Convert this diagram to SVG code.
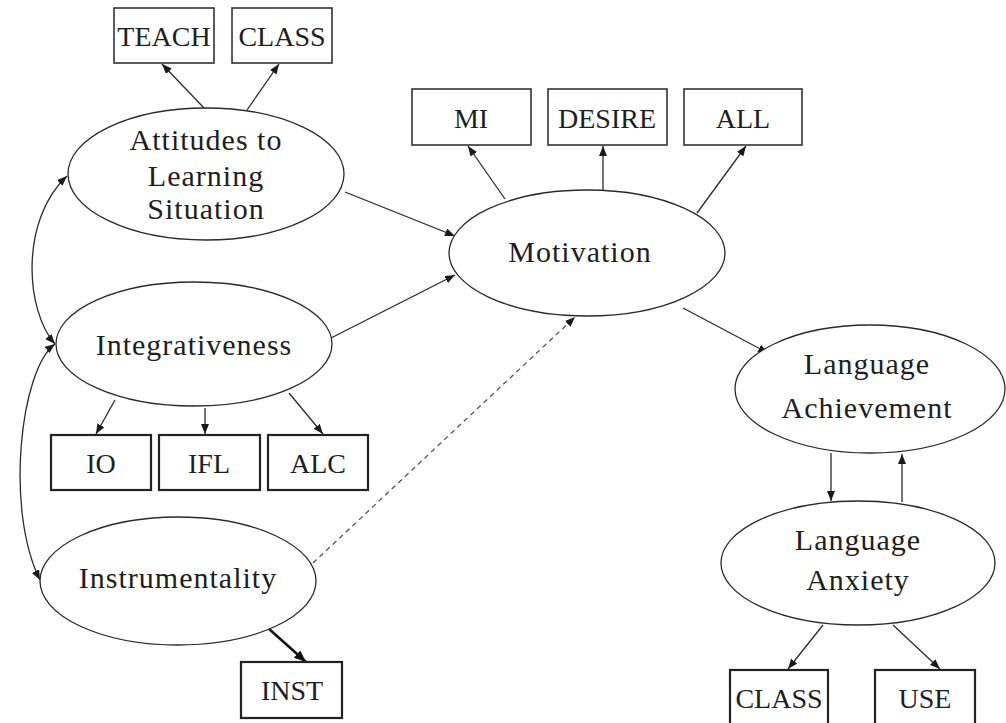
<svg xmlns="http://www.w3.org/2000/svg" width="1006" height="723" viewBox="0 0 1006 723">
  <style>
    .lat { fill: #fff; stroke: #2a2a2a; stroke-width: 1.3; }
    .box { fill: #fff; stroke: #333; stroke-width: 1.6; }
    .box2 { fill: #fff; stroke: #222; stroke-width: 2.2; }
    text { font-family: "Liberation Serif", "DejaVu Serif", "Noto Serif", "Times New Roman", serif; fill: #1e1e1e; text-anchor: middle; }
    .lbl { font-size: 30px; letter-spacing: 1px; }
    .blbl { font-size: 28px; }
    .edge { fill: none; stroke: #2a2a2a; stroke-width: 1.3; marker-end: url(#arr); }
    .both { marker-start: url(#arr); }
    .dash { stroke: #555; stroke-dasharray: 5 4; }
    .thick { stroke: #111; stroke-width: 2.6; marker-end: url(#arrBig); }
  </style>
  <defs>
    <marker id="arr" viewBox="0 0 10 8" refX="10" refY="4" markerWidth="10" markerHeight="8" markerUnits="userSpaceOnUse" orient="auto-start-reverse">
      <path d="M0,0 L10,4 L0,8 z" fill="#1a1a1a"/>
    </marker>
    <marker id="arrBig" viewBox="0 0 10 8" refX="10" refY="4" markerWidth="12" markerHeight="10" markerUnits="userSpaceOnUse" orient="auto">
      <path d="M0,0 L10,4 L0,8 z" fill="#111"/>
    </marker>
  </defs>
  <rect width="1006" height="723" fill="#fff"/>

  <!-- connectors -->
  <g id="connectors">
    <line class="edge" x1="204" y1="108" x2="162" y2="64"/>
    <line class="edge" x1="247" y1="110" x2="279" y2="64"/>
    <line class="edge" x1="345" y1="192" x2="455" y2="236"/>
    <line class="edge" x1="331" y1="338" x2="455" y2="275"/>
    <line class="edge" x1="505" y1="199" x2="468" y2="146"/>
    <line class="edge" x1="603" y1="190" x2="603" y2="146"/>
    <line class="edge" x1="697" y1="213" x2="746" y2="146"/>
    <line class="edge" x1="683" y1="308" x2="768" y2="353"/>
    <line class="edge" x1="115" y1="400" x2="96" y2="434"/>
    <line class="edge" x1="205" y1="408" x2="205" y2="434"/>
    <line class="edge" x1="289" y1="393" x2="323" y2="434"/>
    <line class="edge dash" x1="313" y1="563" x2="575" y2="317"/>
    <line class="edge thick" x1="268" y1="628" x2="306" y2="662"/>
    <path class="edge both" d="M55,344 C25,310 20,220 67,176"/>
    <path class="edge both" d="M55,344 C20,370 5,510 40,580"/>
    <line class="edge" x1="831" y1="453" x2="831" y2="501"/>
    <line class="edge" x1="902" y1="502" x2="902" y2="454"/>
    <line class="edge" x1="823" y1="625" x2="788" y2="669"/>
    <line class="edge" x1="893" y1="625" x2="940" y2="669"/>
  </g>

  <!-- latent variables -->
  <g id="attitudes">
    <ellipse class="lat" cx="206" cy="174" rx="138" ry="66"/>
    <text class="lbl" x="206" y="150">Attitudes to</text>
    <text class="lbl" x="206" y="186">Learning</text>
    <text class="lbl" x="206" y="219">Situation</text>
  </g>
  <g id="motivation">
    <ellipse class="lat" cx="587" cy="253" rx="138" ry="63"/>
    <text class="lbl" x="580" y="262">Motivation</text>
  </g>
  <g id="integrativeness">
    <ellipse class="lat" cx="194" cy="344" rx="138" ry="62"/>
    <text class="lbl" x="194" y="355">Integrativeness</text>
  </g>
  <g id="instrumentality">
    <ellipse class="lat" cx="178" cy="581" rx="138" ry="64"/>
    <text class="lbl" x="178" y="588">Instrumentality</text>
  </g>
  <g id="achievement">
    <ellipse class="lat" cx="870" cy="389" rx="135" ry="64"/>
    <text class="lbl" x="867" y="374">Language</text>
    <text class="lbl" x="867" y="418">Achievement</text>
  </g>
  <g id="anxiety">
    <ellipse class="lat" cx="858" cy="563" rx="137" ry="62"/>
    <text class="lbl" x="858" y="550">Language</text>
    <text class="lbl" x="858" y="590">Anxiety</text>
  </g>

  <!-- indicators -->
  <g id="teach">
    <rect class="box" x="114" y="8" width="100" height="55"/>
    <text class="blbl" x="164" y="46">TEACH</text>
  </g>
  <g id="class-top">
    <rect class="box" x="232" y="8" width="100" height="55"/>
    <text class="blbl" x="282" y="46">CLASS</text>
  </g>
  <g id="mi">
    <rect class="box" x="412" y="89" width="119" height="56"/>
    <text class="blbl" x="471" y="128">MI</text>
  </g>
  <g id="desire">
    <rect class="box" x="548" y="89" width="119" height="56"/>
    <text class="blbl" x="607" y="128">DESIRE</text>
  </g>
  <g id="all">
    <rect class="box" x="684" y="89" width="118" height="56"/>
    <text class="blbl" x="743" y="128">ALL</text>
  </g>
  <g id="io">
    <rect class="box2" x="51" y="435" width="100" height="55"/>
    <text class="blbl" x="101" y="473">IO</text>
  </g>
  <g id="ifl">
    <rect class="box2" x="159" y="435" width="101" height="55"/>
    <text class="blbl" x="209" y="473">IFL</text>
  </g>
  <g id="alc">
    <rect class="box2" x="268" y="435" width="100" height="55"/>
    <text class="blbl" x="318" y="473">ALC</text>
  </g>
  <g id="inst">
    <rect class="box2" x="241" y="662" width="101" height="56"/>
    <text class="blbl" x="292" y="700">INST</text>
  </g>
  <g id="class-bottom">
    <rect class="box2" x="730" y="670" width="98" height="70"/>
    <text class="blbl" x="779" y="708">CLASS</text>
  </g>
  <g id="use">
    <rect class="box2" x="875" y="670" width="100" height="70"/>
    <text class="blbl" x="925" y="708">USE</text>
  </g>
</svg>
